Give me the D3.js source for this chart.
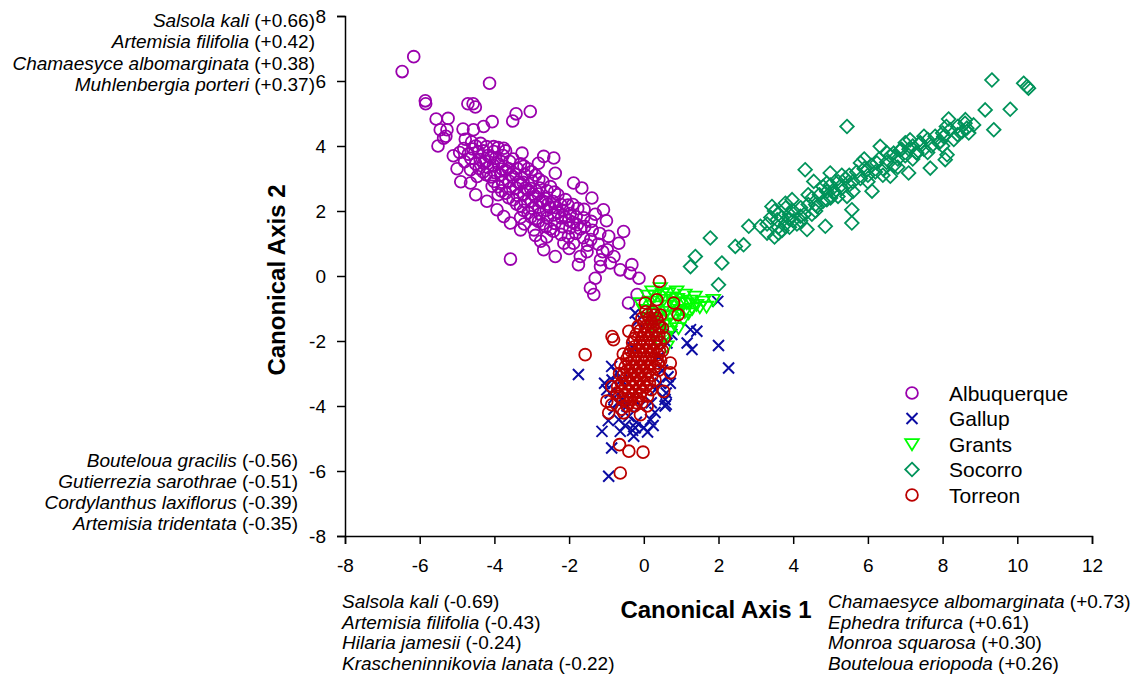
<!DOCTYPE html>
<html>
<head>
<meta charset="utf-8">
<script src="https://cdn.jsdelivr.net/npm/d3@7"></script>
<style>
  body { margin: 0; background: #fff; }
  text { font-family: Arial, "Liberation Sans", sans-serif; fill: #000; }
</style>
</head>
<body>
<svg id="chart" width="1144" height="680"></svg>
<script>
// data: canonical scores per site
const groups = ["Albuquerque", "Gallup", "Grants", "Socorro", "Torreon"];

const albuquerque = [
  [-6.16,6.75],[-6.47,6.29],[-4.13,5.93],[-5.85,5.39],[-5.84,5.30],[-4.71,5.30],[-4.57,5.30],[-4.51,5.20],
  [-3.04,5.06],[-3.42,4.99],[-3.51,4.77],[-5.56,4.83],[-5.24,4.85],[-4.06,4.75],[-5.45,4.50],[-5.27,4.50],
  [-4.84,4.52],[-4.56,4.50],[-4.29,4.60],[-5.51,4.00],[-5.36,4.24],[-4.93,3.80],[-4.64,3.27],[-4.80,3.52],
  [-4.64,2.86],[-4.46,3.06],[-4.06,2.76],[-4.29,3.47],[-4.02,3.98],[-3.75,3.93],[-3.26,3.78],[-2.68,3.68],
  [-2.41,3.63],[-2.82,3.47],[-2.37,3.16],[-1.88,2.86],[-1.66,2.71],[-1.39,2.40],[-1.08,2.04],[-3.93,2.04],
  [-3.75,1.83],[-3.57,1.63],[-3.30,1.42],[-2.94,1.42],[-2.76,1.07],[-2.68,0.81],[-2.37,0.60],[-2.14,1.01],
  [-1.88,1.01],[-1.70,0.60],[-1.52,0.75],[-3.57,0.52],[-1.75,0.35],[-1.16,0.50],[-0.98,0.81],[-0.94,1.22],
  [-0.67,1.01],[-0.54,1.37],[-1.16,0.29],[-0.90,0.40],[-0.63,0.19],[-0.32,0.35],[-0.37,0.09],[-0.13,-0.07],
  [-1.30,-0.07],[-1.43,-0.37],[-1.34,-0.57],[-0.41,-0.83],[-0.18,-0.57],
  [-5.0,3.3],[-4.9,2.9],[-4.5,2.5],[-4.2,2.3],[-3.9,2.5],[-3.3,1.8],[-2.6,1.2],[-5.1,3.7],[-5.3,4.3],
  [-4.82,3.92],[-4.78,4.21],[-4.63,3.62],[-4.58,3.91],[-4.61,4.12],[-4.41,3.31],[-4.38,3.58],[-4.43,3.83],[-4.37,4.08],
  [-4.22,3.12],[-4.18,3.34],[-4.23,3.52],[-4.17,3.71],[-4.21,3.98],
  [-4.01,2.91],[-3.98,3.18],[-4.03,3.41],[-3.97,3.62],[-4.02,3.83],
  [-3.81,2.62],[-3.78,2.88],[-3.83,3.11],[-3.79,3.29],[-3.82,3.52],[-3.77,3.71],
  [-3.62,2.41],[-3.58,2.69],[-3.61,2.92],[-3.57,3.12],[-3.63,3.31],[-3.59,3.52],
  [-3.41,2.22],[-3.38,2.48],[-3.42,2.71],[-3.37,2.89],[-3.43,3.12],[-3.39,3.31],
  [-3.22,2.02],[-3.18,2.29],[-3.21,2.52],[-3.17,2.71],[-3.23,2.88],[-3.19,3.12],[-3.21,3.38],
  [-3.02,1.82],[-2.98,2.08],[-3.01,2.31],[-2.97,2.52],[-3.03,2.69],[-2.99,2.92],[-3.01,3.21],
  [-2.82,1.68],[-2.78,1.91],[-2.81,2.12],[-2.77,2.29],[-2.83,2.52],[-2.79,2.71],[-2.81,2.98],
  [-2.62,1.52],[-2.58,1.79],[-2.61,2.02],[-2.57,2.21],[-2.63,2.38],[-2.59,2.62],
  [-2.42,1.38],[-2.38,1.62],[-2.41,1.88],[-2.37,2.11],[-2.43,2.29],[-2.39,2.58],
  [-2.22,1.28],[-2.18,1.52],[-2.21,1.79],[-2.17,2.02],[-2.23,2.21],
  [-2.02,1.21],[-1.98,1.48],[-2.01,1.71],[-1.97,1.92],[-2.03,2.18],
  [-1.82,1.31],[-1.78,1.58],[-1.81,1.82],[-1.77,2.08],
  [-1.62,1.18],[-1.58,1.52],[-1.61,1.79],
  [-1.42,1.12],[-1.38,1.41],[-1.41,1.68],
  [-1.22,0.98],[-1.18,1.31],
  [-4.7,3.75],[-4.5,3.45],[-4.3,3.2],[-4.1,3.05],[-3.9,2.75],[-3.7,2.55],[-3.5,2.35],[-3.3,2.15],
  [-3.1,1.95],[-2.9,1.75],[-2.7,1.6],[-2.5,1.45],[-4.5,4.0],[-4.3,3.85],[-4.1,3.65],[-3.9,3.45],
  [-3.7,3.25],[-3.5,3.05],[-3.3,2.85],[-3.1,2.65],[-2.9,2.45],[-2.7,2.3],[-2.5,2.1],[-2.3,1.95],
  [-2.1,1.8],[-1.9,1.65],[-1.7,1.45],[-3.9,3.95],[-3.7,3.85],[-3.5,3.6],[-3.3,3.45],[-3.1,3.3],
  [-2.9,3.1],[-2.7,2.9],[-2.5,2.75],[-2.3,2.5],[-2.1,2.35],[-1.9,2.2],[-1.6,2.05],[-1.3,1.9],
  [-1.0,1.7],[-1.5,0.95],[-1.1,0.75],[-0.8,0.6],[-2.0,0.85],[-2.9,1.25],[-3.2,1.6]
];

const gallup = [
  [-1.75,-3.03],[2.27,-2.83],[2.00,-2.14],[1.42,-1.70],[1.25,-1.65],[1.16,-2.06],[1.29,-2.26],[1.98,-0.78],
  [-0.94,-6.16],[-1.12,-4.78],[-0.86,-5.29],[-0.63,-4.78],[-0.27,-4.93],[-0.23,-4.67],[0.00,-4.67],
  [0.57,-4.00],[0.57,-3.80],[0.71,-3.30],[0.44,-3.30],[0.31,-3.50],[-0.72,-2.98],[-0.86,-2.78],
  [-0.90,-3.60],[-0.99,-3.50],[-0.67,-4.42],[-0.40,-4.32],[-0.09,-4.00],[0.18,-4.42],[-0.18,-1.40],
  [-0.23,-1.14],[0.75,-1.80],[0.62,-2.06],[-0.54,-3.80],[-0.45,-4.00],
  [-0.3,-2.2],[0.4,-2.5],[-0.6,-3.2],[0.5,-2.9],[-0.8,-4.1],[-0.2,-4.5],[0.2,-3.9],[0.3,-4.2],
  [-0.5,-4.6],[0.1,-4.8],[-0.7,-3.9],[0.6,-3.6],
  [-0.85,-3.2],[-0.8,-3.75],[-0.95,-4.45],[-0.3,-4.75],[0.25,-4.6],[0.6,-3.95],[0.65,-3.1],[-1.05,-3.3]
];

const grants = [
  [0.22,-0.47],[0.44,-0.37],[0.66,-0.52],[0.88,-0.47],[1.10,-0.57],[1.37,-0.63],[1.59,-0.78],[1.86,-0.73],
  [1.15,-0.83],[1.41,-0.88],[1.68,-0.94],[0.97,-1.04],[1.20,-1.14],[0.80,-0.83],[0.93,-1.60],[1.06,-1.34],
  [0.57,-1.86],[0.62,-2.16],[0.53,-0.73],[0.35,-0.93],[0.18,-0.78],[0.00,-1.04],[0.09,-1.29],[0.27,-1.14],
  [0.49,-1.34],[0.71,-1.24],[0.44,-1.65],[-0.09,-0.83],[0.80,-1.45],
  [0.3,-0.6],[0.6,-0.9],[0.9,-0.7],[1.3,-1.0],[0.2,-1.5],[0.4,-2.0],[0.7,-1.7],
  [0.1,-0.6],[0.5,-0.55],[0.75,-0.65],[1.0,-0.8],[1.25,-0.75],[1.5,-0.95],[0.6,-1.1],[0.85,-1.2],
  [1.1,-1.1],[0.3,-1.3],[0.55,-1.5]
];

const socorro = [
  [9.32,6.03],[10.17,5.93],[10.26,5.83],[10.30,5.78],[9.14,5.11],[9.81,5.13],[9.37,4.50],[5.44,4.60],
  [8.16,4.83],[8.61,4.81],[8.83,4.65],[8.52,4.44],[8.65,4.55],[8.03,4.29],[8.12,3.73],[8.07,3.58],
  [7.67,3.32],[7.94,4.14],[7.40,4.09],[7.13,4.19],[7.31,3.78],[7.09,3.17],[6.87,3.88],[6.69,3.78],
  [6.60,3.07],[6.33,3.99],[6.24,3.48],[5.80,3.48],[5.98,3.27],[6.11,2.61],[5.57,2.04],[5.57,1.63],
  [4.99,3.17],[4.32,3.27],[4.55,2.91],[4.90,2.86],[5.26,2.76],[5.08,2.55],[5.44,2.45],[4.90,2.35],
  [4.64,2.14],[4.86,1.53],[4.37,1.43],[3.97,2.35],[3.79,2.24],[3.43,2.14],[3.57,1.73],[3.61,1.32],
  [4.19,1.84],[2.81,1.53],[3.12,1.53],[3.30,1.32],[2.45,0.91],[2.67,0.96],[1.78,1.17],[1.38,0.60],
  [1.25,0.29],[2.09,0.40],[2.00,-0.27],
  [3.6,1.5],[3.7,1.8],[3.8,1.6],[3.9,1.9],[4.0,1.7],[4.0,2.0],[4.1,1.6],[4.2,2.1],[4.3,1.9],[4.4,2.2],
  [4.5,1.9],[4.5,2.4],[4.6,2.2],[4.7,2.5],[4.8,2.3],[4.9,2.6],[5.0,2.4],[5.0,2.8],[5.1,2.6],[5.2,2.9],
  [5.3,2.7],[5.4,3.0],[5.5,2.8],[5.5,3.1],[5.6,2.9],[5.7,3.2],[5.8,3.0],[5.9,3.3],[6.0,3.1],[6.1,3.4],
  [6.2,3.2],[6.3,3.6],[6.4,3.3],[6.5,3.5],[6.6,3.7],[6.7,3.4],[6.8,3.6],[6.9,3.9],[7.0,3.7],[7.1,3.9],
  [7.2,4.0],[7.3,3.8],[7.4,4.1],[7.5,3.9],[7.6,4.2],[7.7,4.0],[7.8,4.3],[7.9,4.1],[8.0,4.4],[8.2,4.5],
  [8.4,4.6],[8.6,4.7],[8.7,4.4],[8.3,4.2],
  [3.5,2.0],[3.6,1.9],[3.8,2.1],[3.7,1.4],[3.9,1.5],[3.4,1.8],
  [4.2,1.7],[4.6,2.0],[5.2,2.45],[5.6,2.6],[6.0,2.9],[6.4,3.1],[6.8,3.35],[7.2,3.6],[7.6,3.8],[8.0,4.0],
  [8.4,4.35],[4.4,2.5],[4.8,2.75],[5.3,3.1],[5.9,3.6],[6.5,3.8],[7.0,4.1],[7.5,4.3],[8.1,4.6],[3.3,1.6],
  [3.5,1.2],[3.9,1.75]
];

const torreon = [
  [0.42,-0.17],[-1.57,-2.42],[-0.63,-6.06],[-0.65,-5.19],[-0.40,-5.39],[-0.02,-5.42],[-0.81,-1.96],
  [-0.85,-1.86],[-0.94,-4.21],[-0.99,-3.85],[-0.86,-3.96],[-0.54,-4.21],[-0.09,-4.27],[0.09,-4.00],
  [0.53,-3.55],[0.71,-2.98],[0.71,-2.68],[0.92,-1.19],[0.80,-0.83],[0.04,-0.83],[0.35,-0.73],
  [-0.40,-1.70],[-0.86,-3.40],[-0.72,-3.60],
  [0.05,-1.1],[0.25,-1.1],
  [-0.05,-1.3],[0.15,-1.3],[0.35,-1.3],
  [-0.15,-1.55],[0.05,-1.55],[0.25,-1.55],[0.42,-1.55],
  [-0.2,-1.8],[0.0,-1.8],[0.2,-1.8],[0.4,-1.8],
  [-0.3,-2.05],[-0.1,-2.05],[0.1,-2.05],[0.3,-2.05],[0.45,-2.05],
  [-0.35,-2.3],[-0.15,-2.3],[0.05,-2.3],[0.25,-2.3],[0.42,-2.3],
  [-0.45,-2.55],[-0.25,-2.55],[-0.05,-2.55],[0.15,-2.55],[0.35,-2.55],
  [-0.5,-2.8],[-0.3,-2.8],[-0.1,-2.8],[0.1,-2.8],[0.3,-2.8],
  [-0.55,-3.05],[-0.35,-3.05],[-0.15,-3.05],[0.05,-3.05],[0.22,-3.05],
  [-0.6,-3.3],[-0.4,-3.3],[-0.2,-3.3],[0.0,-3.3],[0.15,-3.3],
  [-0.6,-3.55],[-0.42,-3.55],[-0.22,-3.55],[-0.05,-3.55],
  [-0.55,-3.8],[-0.35,-3.8],[-0.15,-3.8],
  [-0.45,-4.0],[-0.25,-4.0],
  [0.1,-1.2],[0.3,-1.2],
  [0.0,-1.42],[0.2,-1.42],[0.38,-1.42],
  [-0.1,-1.68],[0.1,-1.68],[0.3,-1.68],
  [-0.25,-1.92],[-0.05,-1.92],[0.15,-1.92],[0.35,-1.92],
  [-0.25,-2.18],[-0.05,-2.18],[0.15,-2.18],[0.35,-2.18],
  [-0.4,-2.42],[-0.2,-2.42],[0.0,-2.42],[0.2,-2.42],[0.38,-2.42],
  [-0.4,-2.68],[-0.2,-2.68],[0.0,-2.68],[0.2,-2.68],[0.38,-2.68],
  [-0.45,-2.92],[-0.25,-2.92],[-0.05,-2.92],[0.15,-2.92],
  [-0.5,-3.18],[-0.3,-3.18],[-0.1,-3.18],[0.1,-3.18],
  [-0.5,-3.42],[-0.3,-3.42],[-0.1,-3.42],[0.05,-3.42],
  [-0.5,-3.68],[-0.3,-3.68],[-0.1,-3.68],
  [-0.4,-3.9],[-0.2,-3.9],
  [-0.65,-3.0],[-0.62,-2.7],[-0.55,-2.4],[0.45,-2.6],[0.4,-2.9],[0.3,-3.2],[0.5,-2.3],[0.55,-1.9],
  [-0.7,-3.4],[-0.65,-3.7],[0.2,-3.5],[0.1,-3.7],[-0.05,-3.9],[-0.6,-4.1],[0.5,-1.6],[0.45,-1.2]
];

const pointsByGroup = [albuquerque, gallup, grants, socorro, torreon];

// species loadings printed at the ends of each axis
const axis2Positive = [["Salsola kali", "+0.66"], ["Artemisia filifolia", "+0.42"],
                       ["Chamaesyce albomarginata", "+0.38"], ["Muhlenbergia porteri", "+0.37"]];
const axis2Negative = [["Bouteloua gracilis", "-0.56"], ["Gutierrezia sarothrae", "-0.51"],
                       ["Cordylanthus laxiflorus", "-0.39"], ["Artemisia tridentata", "-0.35"]];
const axis1Negative = [["Salsola kali", "-0.69"], ["Artemisia filifolia", "-0.43"],
                       ["Hilaria jamesii", "-0.24"], ["Krascheninnikovia lanata", "-0.22"]];
const axis1Positive = [["Chamaesyce albomarginata", "+0.73"], ["Ephedra trifurca", "+0.61"],
                       ["Monroa squarosa", "+0.30"], ["Bouteloua eriopoda", "+0.26"]];

const xTicks = [-8, -6, -4, -2, 0, 2, 4, 6, 8, 10, 12];
const yTicks = [-8, -6, -4, -2, 0, 2, 4, 6, 8];

// styling
const groupColors = ["#9a00ad", "#0c0ca3", "#00ff00", "#00935a", "#bb0000"];
const groupShapes = ["circle", "cross", "triangle", "diamond", "circle"];

const svg = d3.select("#chart");

const x = d3.scaleLinear().domain([-8, 12]).range([345, 1092]);
const y = d3.scaleLinear().domain([-8, 8]).range([536, 16]);

/**
 * Appends one marker of the given shape into a selection of g's
 */
function drawMarker(sel, shape, color) {
    if (shape === "circle") {
        sel.append("circle").attr("r", 5.9);
    } else if (shape === "cross") {
        sel.append("path").attr("d", "M-5.5,-5.5 L5.5,5.5 M-5.5,5.5 L5.5,-5.5");
    } else if (shape === "triangle") {
        sel.append("path").attr("d", "M-6.8,-4.8 H6.8 L0,6.3 Z");
    } else if (shape === "diamond") {
        sel.append("path").attr("d", "M0,-6.8 L6.8,0 L0,6.8 L-6.8,0 Z");
    }
    sel.selectAll("*")
        .attr("fill", "none")
        .attr("stroke", color)
        .attr("stroke-width", shape === "cross" ? 2 : 1.8);
}

// points, drawn in legend order so Torreon ends on top
groups.forEach((g, i) => {
    const layer = svg.append("g").attr("class", "series");
    const pts = layer.selectAll("g")
        .data(pointsByGroup[i])
        .join("g")
        .attr("transform", d => `translate(${x(d[0])},${y(d[1])})`);
    drawMarker(pts, groupShapes[i], groupColors[i]);
});

// axes
const xAxis = d3.axisBottom(x).tickValues(xTicks).tickSize(8).tickPadding(15)
    .tickFormat(d => String(d));
const yAxis = d3.axisLeft(y).tickValues(yTicks).tickSize(8).tickPadding(11)
    .tickFormat(d => String(d));

const gx = svg.append("g").attr("transform", `translate(0,${y(-8)})`).call(xAxis);
const gy = svg.append("g").attr("transform", `translate(${x(-8)},0)`).call(yAxis);
[gx, gy].forEach(g => {
    g.selectAll("path, line").attr("stroke", "#000").attr("stroke-width", 1.5);
    g.selectAll("text").attr("font-size", 19).attr("font-family", "Arial, 'Liberation Sans', sans-serif")
        .attr("fill", "#000");
});

// axis titles
svg.append("text")
    .attr("x", 716).attr("y", 618)
    .attr("text-anchor", "middle")
    .attr("font-size", 24).attr("font-weight", "bold")
    .text("Canonical Axis 1");
svg.append("text")
    .attr("transform", "translate(285,280) rotate(-90)")
    .attr("text-anchor", "middle")
    .attr("font-size", 24).attr("font-weight", "bold")
    .text("Canonical Axis 2");

/**
 * Writes a block of species names (italic) with their loading
 */
function speciesBlock(list, px, py, anchor, step) {
    const t = svg.append("g");
    list.forEach((s, i) => {
        const line = t.append("text")
            .attr("x", px).attr("y", py + i * step)
            .attr("text-anchor", anchor)
            .attr("font-size", 19);
        line.append("tspan").attr("font-style", "italic").text(s[0]);
        line.append("tspan").text(` (${s[1]})`);
    });
}

speciesBlock(axis2Positive, 315, 27, "end", 21.3);
speciesBlock(axis2Negative, 298, 467, "end", 21.1);
speciesBlock(axis1Negative, 342, 608, "start", 20.7);
speciesBlock(axis1Positive, 828, 608, "start", 20.7);

// legend
const legend = svg.append("g").attr("transform", "translate(912,393)");
groups.forEach((g, i) => {
    const row = legend.append("g").attr("transform", `translate(0,${i * 25.5})`);
    drawMarker(row.append("g"), groupShapes[i], groupColors[i]);
    row.append("text")
        .attr("x", 37).attr("y", 7.5)
        .attr("font-size", 21)
        .text(g);
});
</script>
</body>
</html>
